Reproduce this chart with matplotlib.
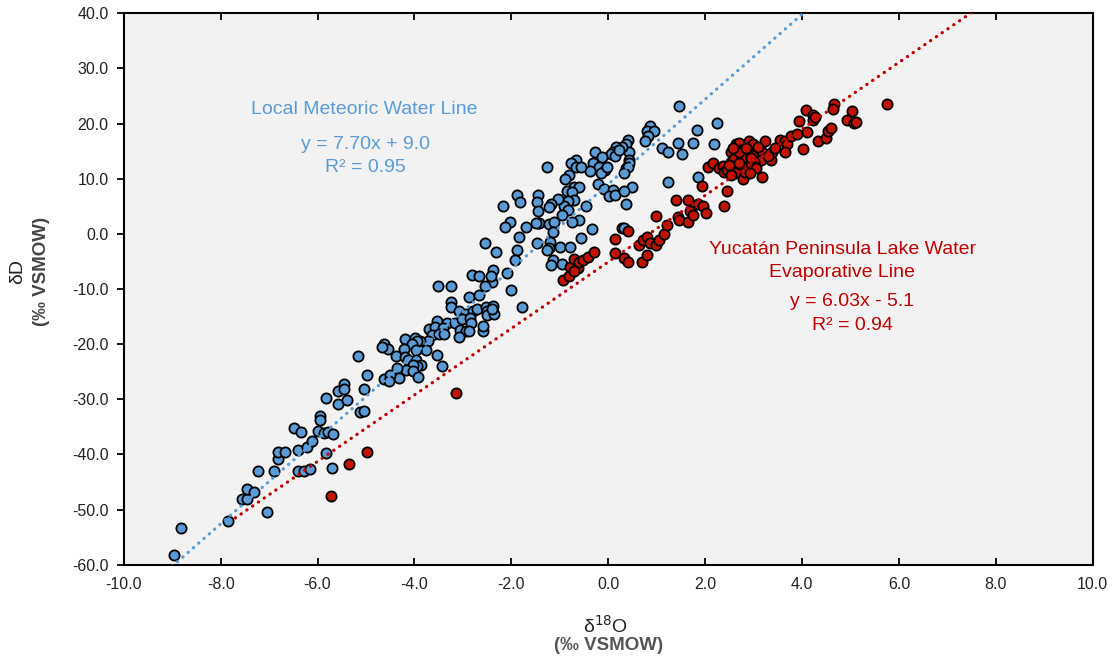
import numpy as np
import matplotlib.pyplot as plt

# %% values, pairs of (d18O, dD) in permil VSMOW

# local meteoric water samples (blue)
lmwl_low = [(-8.96, -58.3), (-8.81, -53.4), (-7.85, -52.1), (-7.04, -50.5), (-7.55, -48.1),
            (-7.45, -48.0), (-7.45, -46.3), (-7.32, -46.9), (-7.22, -43.1), (-6.89, -43.0),
            (-6.82, -40.8), (-6.82, -39.5), (-6.67, -39.5), (-6.49, -35.3), (-6.34, -36.0),
            (-6.40, -39.2), (-6.41, -43.1), (-6.27, -43.1), (-6.15, -42.7), (-6.21, -38.6),
            (-6.12, -37.6), (-6.00, -35.7), (-5.94, -33.0), (-5.94, -33.8), (-5.83, -29.8),
            (-5.86, -36.2), (-5.79, -35.9), (-5.68, -36.3), (-5.83, -39.8), (-5.71, -42.5),
            (-5.57, -28.5), (-5.57, -30.9), (-5.39, -30.1), (-5.45, -27.2), (-5.45, -28.2),
            (-5.12, -32.4), (-5.05, -32.1), (-5.05, -28.2)]

lmwl_mid = [(-2.40, -8.8), (-2.54, -9.4), (-3.51, -9.4), (-3.25, -9.4), (-2.88, -11.4),
            (-2.66, -11.1), (-3.25, -12.3), (-3.25, -13.3), (-3.08, -14.0), (-2.94, -14.6),
            (-2.80, -14.0), (-2.70, -13.7), (-2.52, -13.3), (-2.51, -14.0), (-2.51, -14.7),
            (-2.37, -13.1), (-2.36, -14.6), (-2.40, -13.7), (-3.54, -15.9), (-3.32, -16.1),
            (-3.16, -16.1), (-3.01, -15.5), (-2.85, -15.3), (-2.83, -16.2), (-3.69, -17.2),
            (-3.57, -16.9), (-3.42, -17.0), (-3.05, -17.5), (-2.94, -17.7), (-2.87, -17.7),
            (-2.59, -17.7), (-2.58, -16.8), (-3.63, -18.3), (-3.50, -18.2), (-3.40, -18.1),
            (-3.08, -18.7), (-3.73, -19.4), (-3.89, -19.5), (-4.20, -19.1), (-3.98, -18.9),
            (-3.95, -19.5), (-4.06, -20.0), (-3.76, -21.1), (-4.21, -20.8), (-3.96, -21.1),
            (-4.62, -20.0), (-4.54, -20.8), (-4.66, -20.5), (-4.38, -22.1), (-4.19, -22.3),
            (-4.13, -22.9), (-3.97, -22.9), (-3.87, -23.7), (-3.94, -24.0), (-4.04, -23.8),
            (-4.18, -24.7), (-4.35, -24.4), (-4.02, -24.8), (-3.92, -25.9), (-4.31, -26.2),
            (-3.54, -22.0), (-3.43, -24.0), (-5.16, -22.1), (-4.98, -25.6), (-4.62, -26.4),
            (-4.50, -25.6), (-4.53, -26.7), (-2.00, -10.1), (-1.77, -13.3)]

lmwl_high = [(1.47, 23.2), (2.24, 20.1), (1.83, 18.8), (0.86, 19.5), (0.81, 18.7),
             (0.95, 18.7), (0.83, 17.8), (0.76, 16.8), (1.43, 16.5), (1.75, 16.5),
             (2.19, 16.2), (1.10, 15.6), (1.24, 14.9), (1.53, 14.5), (0.40, 17.1),
             (0.36, 16.2), (0.43, 14.9), (0.28, 15.8), (0.16, 15.8), (0.09, 14.9),
             (0.06, 14.5), (0.14, 14.2), (0.23, 15.2), (0.42, 13.4), (0.43, 12.8),
             (0.37, 11.9), (0.40, 12.1), (0.32, 11.1), (-0.27, 14.9), (-0.12, 13.9),
             (-0.31, 12.9), (-0.20, 12.1), (-0.07, 11.6), (-0.14, 11.0), (-0.02, 12.1),
             (-0.38, 11.4), (-0.67, 13.4), (-0.77, 12.8), (-0.67, 12.2), (-0.56, 12.2),
             (-0.82, 10.7), (-0.90, 9.9), (-1.27, 12.2), (-0.22, 9.1), (-0.08, 8.1),
             (0.09, 8.0), (0.02, 6.8), (0.14, 7.1), (0.50, 8.4), (0.33, 7.7),
             (0.37, 5.4), (1.24, 9.4), (1.86, 10.3), (-0.70, 8.5), (-0.60, 8.4),
             (-0.85, 7.7), (-0.75, 7.6), (-0.70, 6.2), (-0.84, 5.9), (-0.91, 5.1),
             (-0.84, 4.4), (-0.96, 3.4), (-1.03, 6.4), (-1.18, 5.4), (-1.22, 4.8),
             (-1.44, 7.1), (-1.47, 5.7), (-1.44, 4.2), (-1.45, 1.9), (-0.46, 5.1),
             (-0.60, 2.5), (-0.75, 2.2), (-0.34, 0.9), (-1.88, 7.1), (-1.82, 5.8),
             (-2.18, 5.1), (-2.03, 2.2), (-2.14, 1.3), (-1.70, 1.3), (-1.85, -0.6),
             (-1.42, 1.9), (-1.49, 1.9), (-1.22, 1.8), (-1.11, 2.2), (-1.15, 0.4),
             (-1.48, -1.7), (-1.20, -1.4), (-1.23, -2.6), (-1.27, -3.0), (-1.00, -2.3),
             (-0.78, -2.3), (-0.56, -0.7), (-1.15, -4.7), (-0.96, -5.4), (-1.18, -5.6),
             (-2.54, -1.7), (-2.32, -3.3), (-1.88, -2.9), (-1.92, -4.7), (-2.37, -6.5),
             (-2.08, -7.1), (-2.81, -7.4), (-2.66, -7.7), (-2.42, -7.7), (0.29, 1.0),
             (0.33, 1.0)]

# Yucatan lake water samples (red)
lake_low = [(-4.98, -39.5), (-5.35, -41.8), (-5.72, -47.6), (-3.14, -28.9),
            (-0.93, -8.3), (-0.82, -7.7), (-0.78, -6.0), (-0.70, -4.6), (-0.63, -6.2),
            (-0.70, -6.7), (-0.61, -5.2), (-0.53, -4.7), (-0.42, -4.2), (-0.30, -3.3)]

lake_mid = [(0.14, -1.0), (0.14, -3.5), (0.32, -4.4), (0.40, -5.2), (0.40, 0.6),
            (0.64, -2.0), (0.71, -1.1), (0.81, -0.5), (0.86, -1.7), (0.98, -2.0),
            (1.05, -1.1), (1.16, 0.0), (1.21, 1.6), (0.98, 3.3), (0.70, -5.2),
            (0.81, -3.9), (1.40, 6.2), (1.64, 6.2), (1.69, 4.2), (1.43, 3.1),
            (1.47, 2.5), (1.64, 2.2), (1.75, 3.4), (1.86, 5.4)]

lake_high = [(2.05, 12.2), (2.17, 12.9), (2.28, 11.9), (2.37, 12.3), (2.38, 11.2),
             (2.53, 14.8), (2.53, 13.1), (2.64, 16.2), (2.69, 16.5), (2.74, 15.2),
             (2.90, 16.8), (2.98, 16.2), (2.91, 14.9), (3.08, 14.8), (3.18, 14.9),
             (3.15, 13.4), (3.01, 13.1), (2.88, 12.5), (2.77, 12.1), (2.65, 12.5),
             (2.62, 11.0), (2.64, 14.3), (2.77, 13.7), (2.46, 11.6), (2.54, 10.7),
             (2.79, 10.0), (3.18, 10.3), (3.37, 13.4), (3.39, 14.9), (3.23, 16.8),
             (3.55, 17.1), (3.65, 16.8), (3.68, 16.2), (3.65, 14.9), (3.77, 17.7),
             (3.89, 18.1), (3.93, 20.4), (4.11, 18.4), (4.08, 22.5), (4.22, 21.6),
             (4.23, 20.7), (4.01, 15.4), (4.33, 16.8), (4.49, 17.4), (4.53, 18.7),
             (4.60, 19.2), (4.93, 20.7), (5.03, 22.2), (5.08, 20.1), (5.12, 20.2),
             (1.94, 8.7), (2.46, 7.7), (1.95, 5.1), (2.02, 3.8), (2.38, 5.1),
             (5.75, 23.6), (4.66, 23.6), (4.63, 22.6), (4.27, 21.1),
             (2.60, 13.6), (2.70, 14.8), (2.85, 15.5), (2.95, 13.8), (2.50, 12.5),
             (2.82, 11.2), (3.05, 12.0), (2.70, 12.9), (2.58, 15.5), (3.30, 14.1),
             (2.92, 11.1), (3.45, 15.6), (3.10, 15.8)]

# regression lines: slope, intercept, d18O span of the drawn line
lmwl_fit = (7.70, 9.0)
lake_fit = (6.03, -5.1)
lmwl_span = np.array([-9.0, 4.2])
lake_span = np.array([-7.7, 7.6])

blue = '#5b9bd5'
red = '#c00000'

# %%
plt.rcParams['font.family'] = ['Liberation Sans', 'DejaVu Sans']

fig = plt.figure(figsize=(11.15, 6.62), dpi=100)
ax = fig.add_axes([0.111, 0.147, 0.869, 0.833])
ax.set_facecolor('#f2f2f2')

lm = np.array(lmwl_low + lmwl_mid + lmwl_high)
lk = np.array(lake_low + lake_mid + lake_high)

ax.scatter(lm[:, 0], lm[:, 1], s=54, c=blue, edgecolors='black', linewidths=1.3, zorder=2)
ax.scatter(lk[:, 0], lk[:, 1], s=54, c='#c01400', edgecolors='black', linewidths=1.3, zorder=2)

ax.plot(lmwl_span, lmwl_fit[0] * lmwl_span + lmwl_fit[1], color=blue, lw=2.3,
        linestyle=(0, (0.1, 2.1)), dash_capstyle='round', zorder=3)
ax.plot(lake_span, lake_fit[0] * lake_span + lake_fit[1], color=red, lw=2.3,
        linestyle=(0, (0.1, 2.1)), dash_capstyle='round', zorder=3)

ax.set_xlim(-10, 10)
ax.set_ylim(-60, 40)
ax.set_xticks(np.arange(-10, 10.1, 2))
ax.set_yticks(np.arange(-60, 40.1, 10))
ax.xaxis.set_major_formatter(plt.FormatStrFormatter('%.1f'))
ax.yaxis.set_major_formatter(plt.FormatStrFormatter('%.1f'))
ax.tick_params(axis='x', direction='in', top=True, length=5, width=1.3, pad=9,
               labelsize=11.5, labelcolor='#222222')
ax.tick_params(axis='y', direction='out', length=5, width=1.3, pad=6,
               labelsize=11.5, labelcolor='#222222')
for sp in ax.spines.values():
    sp.set_linewidth(1.5)

# equation labels
ax.text(-5.04, 22.5, 'Local Meteoric Water Line', color=blue, fontsize=14,
        ha='center', va='center')
ax.text(-5.02, 16.2, 'y = 7.70x + 9.0', color=blue, fontsize=14, ha='center', va='center')
ax.text(-5.02, 12.0, 'R² = 0.95', color=blue, fontsize=14, ha='center', va='center')

ax.text(4.83, -2.9, 'Yucatán Peninsula Lake Water', color=red, fontsize=14,
        ha='center', va='center')
ax.text(4.83, -7.1, 'Evaporative Line', color=red, fontsize=14, ha='center', va='center')
ax.text(5.04, -12.3, 'y = 6.03x - 5.1', color=red, fontsize=14, ha='center', va='center')
ax.text(5.04, -16.7, 'R² = 0.94', color=red, fontsize=14, ha='center', va='center')

# axis titles
fig.text(18 / 1115, 1 - 272 / 662, 'δD', rotation=90, fontsize=14,
         ha='center', va='center', color='#222222')
fig.text(42 / 1115, 1 - 271 / 662, '(‰ VSMOW)', rotation=90, fontsize=13.5,
         fontweight='bold', ha='center', va='center', color='#444444')
fig.text(606 / 1115, 1 - 626 / 662, 'δ$^{18}$O', fontsize=14,
         ha='center', va='center', color='#222222')
fig.text(609 / 1115, 1 - 646 / 662, '(‰ VSMOW)', fontsize=13.5,
         fontweight='bold', ha='center', va='center', color='#555555')

plt.savefig('out.png', dpi=100)
